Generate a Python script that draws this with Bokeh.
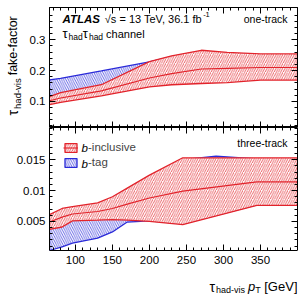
import math
import numpy as np
from bokeh.plotting import figure
from bokeh.layouts import column, row
from bokeh.models import (Range1d, LinearAxis, FixedTicker, Label, Legend,
                          LegendItem, CustomJSTickFormatter)
from bokeh.embed import file_html
from bokeh.resources import INLINE

# tau_had-vis pT nodes [GeV] and fake-factor bands
pt_1p = [65, 80, 135, 200, 230, 270, 305, 350, 400]
ff1_incl_hi = [0.115, 0.128, 0.154, 0.229, 0.248, 0.266, 0.259, 0.254, 0.254]
ff1_incl_nom = [0.102, 0.111, 0.134, 0.176, 0.190, 0.205, 0.207, 0.210, 0.210]
ff1_incl_lo = [0.089, 0.097, 0.118, 0.147, 0.154, 0.158, 0.161, 0.169, 0.169]
ff1_btag_hi = [0.170, 0.175, 0.199, 0.228, 0.245, 0.262, 0.255, 0.250, 0.250]
ff1_btag_lo = [0.100, 0.106, 0.130, 0.160, 0.170, 0.175, 0.180, 0.185, 0.185]

pt_3p = [65, 82, 96, 130, 150, 170, 200, 245, 345, 400]
ff3_incl_hi = [0.0061, 0.0071, 0.0074, 0.0080, 0.0090, 0.0104, 0.0125, 0.0153, 0.0153, 0.0153]
ff3_incl_nom = [0.0049, 0.0057, 0.0062, 0.0066, 0.0071, 0.0078, 0.0088, 0.0099, 0.0114, 0.0114]
ff3_incl_lo = [0.0037, 0.0041, 0.0051, 0.0052, 0.0053, 0.0052, 0.0050, 0.0045, 0.0076, 0.0076]
pt_3p_btag = [65, 82, 96, 130, 150, 170, 200, 245, 290, 345, 400]
ff3_btag_hi = [0.0058, 0.0068, 0.0071, 0.0077, 0.0087, 0.0101, 0.0122, 0.0150, 0.01555, 0.0151, 0.0151]
ff3_btag_lo = [0.0003, 0.0009, 0.0015, 0.0023, 0.0033, 0.0049, 0.0051, 0.0046, 0.0060, 0.0077, 0.0077]

x_major = [100, 150, 200, 250, 300, 350]
y1_major = [0.1, 0.2, 0.3]
y3_major = [0.005, 0.01, 0.015]

FONT = "Liberation Sans"
RED = "#e2232b"
BLUE = "#2a2ad8"
W, H = 298, 294             # page size of the whole layout
YT_W = 22                   # strip holding the rotated y title
FRAME_L, FRAME_R = 49, 297
TOP_FT, TOP_FB, BOT_FB = 7, 127, 250   # page y of panel edges
X_LIM = (65, 400)
Y1_LIM = (0.015, 0.405)
Y3_LIM = (0.0003, 0.0202)

# approximate Arial/Liberation advance widths (per 1000 em)
ADV = {c: 556 for c in "0123456789abdeghnopqu"}
ADV.update({'c': 500, 'f': 278, 'i': 222, 'k': 500, 'l': 222, 'r': 333, 's': 500,
            't': 278, 'v': 500, '-': 333, ' ': 278, '=': 584, ',': 278, '.': 278,
            '[': 278, ']': 278, 'G': 778, 'V': 667, 'T': 611, 'A': 722, 'L': 611,
            'S': 667, 'τ': 470, '√': 549})


def text_width(s, size):
    return sum(ADV.get(ch, 556) for ch in s) * size / 1000.0


x_range = Range1d(*X_LIM)


def style_fig(p):
    p.grid.visible = False
    p.background_fill_color = "white"
    p.border_fill_color = "white"
    return p


def style_axis(ax, ticker, show_labels, formatter=None):
    ax.ticker = ticker
    ax.axis_line_color = "black"
    ax.axis_line_width = 1
    ax.major_tick_in = 6
    ax.major_tick_out = 0
    ax.minor_tick_in = 3
    ax.minor_tick_out = 0
    ax.major_tick_line_color = "black"
    ax.minor_tick_line_color = "black"
    if formatter is not None:
        ax.formatter = formatter
    if show_labels:
        ax.major_label_text_font = FONT
        ax.major_label_text_font_size = "11.5px"
        ax.major_label_text_color = "black"
        ax.major_label_standoff = 4
    else:
        ax.major_label_text_color = None
        ax.major_label_standoff = 0


fmt = CustomJSTickFormatter(code="return tick.toString()")
xt = FixedTicker(ticks=x_major, minor_ticks=list(range(70, 400, 10)))
yt1 = FixedTicker(ticks=y1_major, minor_ticks=[round(v, 3) for v in np.arange(0.02, 0.40, 0.02)])
yt3 = FixedTicker(ticks=y3_major, minor_ticks=[round(v, 4) for v in np.arange(0.001, 0.0201, 0.001)])

# --- one-track panel -------------------------------------------------------
top = style_fig(figure(width=W - YT_W, height=TOP_FB, x_range=x_range,
                       y_range=Range1d(*Y1_LIM), output_backend="svg",
                       toolbar_location=None, min_border_left=FRAME_L - YT_W,
                       min_border_right=W - FRAME_R, min_border_top=TOP_FT,
                       min_border_bottom=0))
top.outline_line_color = "black"
style_axis(top.xaxis[0], xt, False)
style_axis(top.yaxis[0], yt1, True, fmt)
ax = LinearAxis(); style_axis(ax, yt1, False); top.add_layout(ax, "right")
ax = LinearAxis(); style_axis(ax, xt, False); top.add_layout(ax, "above")

# --- three-track panel: the frame runs to the page bottom so that the x title
# fits inside it; the x axis is pinned at the panel's lower limit ------------
panel_h = BOT_FB - TOP_FB
y3_low = Y3_LIM[0] - (H - BOT_FB) * (Y3_LIM[1] - Y3_LIM[0]) / panel_h
bot = style_fig(figure(width=W, height=H - TOP_FB, x_range=x_range,
                       y_range=Range1d(y3_low, Y3_LIM[1]), output_backend="svg",
                       toolbar_location=None, min_border_left=FRAME_L,
                       min_border_right=W - FRAME_R, min_border_top=0,
                       min_border_bottom=0))
bot.outline_line_color = None
style_axis(bot.xaxis[0], xt, True)
bot.xaxis[0].fixed_location = Y3_LIM[0]
bot.xaxis[0].major_label_standoff = 5
style_axis(bot.yaxis[0], yt3, True, fmt)
bot.yaxis[0].bounds = Y3_LIM
ax = LinearAxis(bounds=Y3_LIM); style_axis(ax, yt3, False); bot.add_layout(ax, "right")
ax = LinearAxis(); style_axis(ax, xt, False); bot.add_layout(ax, "above")

# strip for the rotated y title
ytitle = style_fig(figure(width=YT_W, height=TOP_FB, x_range=Range1d(0, 1),
                          y_range=Range1d(0, 1), output_backend="svg",
                          toolbar_location=None, x_axis_type=None,
                          y_axis_type=None, min_border=0))
ytitle.outline_line_color = None


def band(p, x, hi, lo, color, pattern, fill):
    xs = list(x) + list(x)[::-1]
    ys = list(hi) + list(lo)[::-1]
    return p.patch(xs, ys, fill_color="white", fill_alpha=1.0 if fill else 0.0,
                   hatch_pattern=pattern, hatch_color=color, hatch_scale=4.5,
                   hatch_weight=0.7, line_color=color, line_width=1.3)


# one-track
band(top, pt_1p, ff1_btag_hi, ff1_btag_lo, BLUE, "\\", False)
band(top, pt_1p, ff1_incl_hi, ff1_incl_lo, RED, "/", True)
top.line(pt_1p, ff1_incl_nom, line_color=RED, line_width=1.1)

# three-track
b3 = band(bot, pt_3p_btag, ff3_btag_hi, ff3_btag_lo, BLUE, "\\", False)
r3 = band(bot, pt_3p, ff3_incl_hi, ff3_incl_lo, RED, "/", True)
m3 = bot.line(pt_3p, ff3_incl_nom, line_color=RED, line_width=1.1)

legend = Legend(items=[LegendItem(label="-inclusive", renderers=[r3, m3]),
                       LegendItem(label="-tag", renderers=[b3])],
                location="top_left", margin=14, padding=0, spacing=3,
                glyph_width=15, glyph_height=11, label_standoff=10,
                label_text_font=FONT, label_text_font_size="11.5px",
                background_fill_alpha=0, border_line_alpha=0)
bot.add_layout(legend)


# page position -> data position for each panel
def to_x(X):
    return X_LIM[0] + (X - FRAME_L) * (X_LIM[1] - X_LIM[0]) / (FRAME_R - FRAME_L)


def to_y_top(Y):
    return Y1_LIM[1] - (Y - TOP_FT) * (Y1_LIM[1] - Y1_LIM[0]) / (TOP_FB - TOP_FT)


def to_y_bot(Y):
    return Y3_LIM[1] - (Y - TOP_FB) * (Y3_LIM[1] - Y3_LIM[0]) / panel_h


def put(p, X, Y, text, size, style="normal", align="left", angle=0.0):
    conv_y = to_y_top if p is top else to_y_bot
    p.add_layout(Label(x=to_x(X), y=conv_y(Y), text=text, text_font=FONT,
                       text_font_size=f"{size}px", text_font_style=style,
                       text_color="black", text_align=align,
                       text_baseline="middle", angle=angle))


def run(p, X, Y, pieces):
    for text, size, dy, style, gap in pieces:
        X += gap
        put(p, X, Y + dy, text, size, style)
        X += text_width(text, size)
    return X


# ATLAS label and energy / luminosity
x = run(top, 62, 18, [("ATLAS", 11.5, 0, "bold italic", 0)])
run(top, x + 4, 18, [("√s = 13 TeV, 36.1 fb", 11, 0, "normal", 0),
                     ("-1", 7.5, -4, "normal", -1)])
run(top, 62, 33, [("τ", 13, 0, "normal", 0), ("had", 8.5, 3, "normal", 0),
                  ("τ", 13, 0, "normal", 0), ("had", 8.5, 3, "normal", 0),
                  ("channel", 11, 0, "normal", 3)])
put(top, 287, 18, "one-track", 10.5, align="right")
put(bot, 287, 142, "three-track", 10.5, align="right")

# italic b in the legend labels
put(bot, 81, 147, "b", 11.5, "italic")
put(bot, 81, 163, "b", 11.5, "italic")

# x title, right-aligned to the frame edge
pieces = [("τ", 14, 0, "normal", 0), ("had-vis", 9, 3, "normal", 0),
          ("p", 13, 0, "italic", 3), ("T", 9, 3, "normal", 0),
          ("[GeV]", 13, 0, "normal", 3.5)]
total = sum(text_width(t, s) + g for t, s, _, _, g in pieces)
run(bot, FRAME_R - total, 286, pieces)

# y title, rotated, read bottom to top (strip frame = whole strip canvas)
ang = math.pi / 2
Y = 115
for text, size, dx, gap in [("τ", 14, 0, 0), ("had-vis", 9.5, 5, 0), ("fake-factor", 12.5, 0, 3)]:
    Y -= gap
    ytitle.add_layout(Label(x=12 + dx, y=TOP_FB - Y, x_units="screen", y_units="screen",
                            text=text, text_font=FONT, text_font_size=f"{size}px",
                            text_color="black", text_align="left",
                            text_baseline="middle", angle=ang))
    Y -= text_width(text, size)

layout = column(row(ytitle, top, spacing=0), bot, spacing=0)
open("out.html", "w").write(file_html(layout, INLINE))
